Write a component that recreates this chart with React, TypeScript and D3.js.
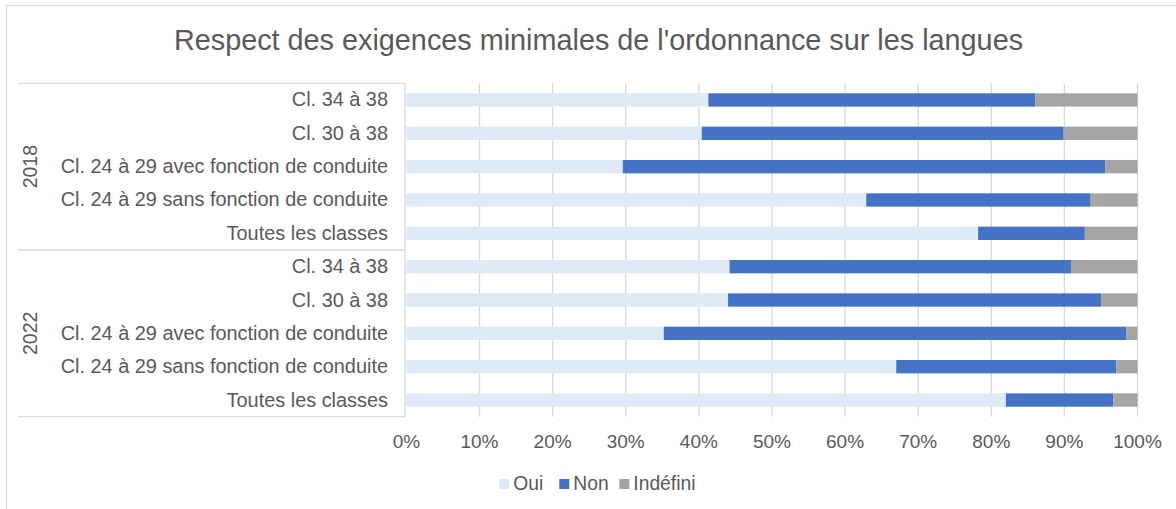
import React, { useEffect, useRef } from "react";
import * as d3 from "d3";

const title = "Respect des exigences minimales de l'ordonnance sur les langues";
const years = ["2018", "2022"];
const classes = [
  "Cl. 34 à 38",
  "Cl. 30 à 38",
  "Cl. 24 à 29 avec fonction de conduite",
  "Cl. 24 à 29 sans fonction de conduite",
  "Toutes les classes",
];
const seriesNames = ["Oui", "Non", "Indéfini"];
const seriesColors = ["#DEEBF7", "#4472C4", "#A5A5A5"];

// percentages, one per class, same order as classes
const oui2018 = [41.3, 40.4, 29.6, 62.9, 78.2];
const non2018 = [44.7, 49.5, 66.0, 30.7, 14.6];
const ind2018 = [14.0, 10.1, 4.4, 6.4, 7.2];
const oui2022 = [44.2, 44.0, 35.2, 67.0, 82.0];
const non2022 = [46.7, 51.0, 63.3, 30.1, 14.7];
const ind2022 = [9.1, 5.0, 1.5, 2.9, 3.3];

const xTicks = [0, 10, 20, 30, 40, 50, 60, 70, 80, 90, 100];

const WIDTH = 1176;
const HEIGHT = 509;
const FONT = "'Liberation Sans', Arial, sans-serif";
const TEXT = "#595959";
const LINE = "#d9d9d9";

export default function App() {
  const ref = useRef<SVGSVGElement>(null);

  useEffect(() => {
    const svg = d3.select(ref.current);
    svg.selectAll("*").remove();

    const values: Record<string, number[][]> = {
      "2018": [oui2018, non2018, ind2018],
      "2022": [oui2022, non2022, ind2022],
    };

    const rows: any[] = [];
    years.forEach((yr) => {
      classes.forEach((c, i) => {
        const row: any = { key: yr + "|" + c, year: yr, label: c };
        seriesNames.forEach((s, j) => (row[s] = values[yr][j][i]));
        rows.push(row);
      });
    });

    const plotLeft = 406.4;
    const plotRight = 1137.5;
    const plotTop = 83.3;
    const plotBottom = 416.7;
    const axisLeft = 18;
    const axisX = 405;

    const x = d3.scaleLinear().domain([0, 100]).range([plotLeft, plotRight]);
    const y = d3
      .scaleBand()
      .domain(rows.map((r) => r.key))
      .range([plotTop, plotBottom])
      .paddingInner(0.6)
      .paddingOuter(0.3);
    const yearBand = d3.scaleBand().domain(years).range([plotTop, plotBottom]);

    // chart frame
    svg
      .append("rect")
      .attr("x", 6.5)
      .attr("y", 5.5)
      .attr("width", WIDTH + 20)
      .attr("height", HEIGHT + 20)
      .attr("fill", "#fff")
      .attr("stroke", LINE)
      .attr("stroke-width", 1.3);

    svg
      .append("text")
      .attr("x", 598.5)
      .attr("y", 50)
      .attr("text-anchor", "middle")
      .attr("font-size", 28.8)
      .attr("fill", TEXT)
      .text(title);

    // gridlines
    svg
      .append("g")
      .selectAll("line")
      .data(xTicks.slice(1))
      .enter()
      .append("line")
      .attr("x1", (d) => x(d))
      .attr("x2", (d) => x(d))
      .attr("y1", plotTop)
      .attr("y2", plotBottom)
      .attr("stroke", LINE)
      .attr("stroke-width", 1.3);

    // stacked bars
    const stacked = d3.stack<any>().keys(seriesNames)(rows);
    svg
      .append("g")
      .selectAll("g")
      .data(stacked)
      .enter()
      .append("g")
      .attr("fill", (d, i) => seriesColors[i])
      .selectAll("rect")
      .data((d) => d)
      .enter()
      .append("rect")
      .attr("x", (d) => x(d[0]))
      .attr("width", (d) => x(d[1]) - x(d[0]))
      .attr("y", (d) => y(d.data.key)!)
      .attr("height", y.bandwidth());

    // category axis frame
    const cat = svg.append("g").attr("stroke", LINE).attr("stroke-width", 1.3);
    cat
      .append("line")
      .attr("x1", axisX)
      .attr("x2", axisX)
      .attr("y1", plotTop)
      .attr("y2", plotBottom);
    cat
      .selectAll("line.sep")
      .data([plotTop, ...years.map((yr) => yearBand(yr)! + yearBand.bandwidth())])
      .enter()
      .append("line")
      .attr("class", "sep")
      .attr("x1", axisLeft)
      .attr("x2", axisX)
      .attr("y1", (d) => d)
      .attr("y2", (d) => d);

    // category labels
    svg
      .append("g")
      .selectAll("text")
      .data(rows)
      .enter()
      .append("text")
      .attr("x", 388)
      .attr("y", (d) => y(d.key)! + y.bandwidth() / 2 + 6.5)
      .attr("text-anchor", "end")
      .attr("font-size", 19.9)
      .attr("fill", TEXT)
      .text((d) => d.label);

    // year labels
    svg
      .append("g")
      .selectAll("text")
      .data(years)
      .enter()
      .append("text")
      .attr(
        "transform",
        (d) => "translate(37," + (yearBand(d)! + yearBand.bandwidth() / 2) + ") rotate(-90)"
      )
      .attr("text-anchor", "middle")
      .attr("font-size", 19.5)
      .attr("fill", TEXT)
      .text((d) => d);

    // value axis labels
    svg
      .append("g")
      .selectAll("text")
      .data(xTicks)
      .enter()
      .append("text")
      .attr("x", (d) => x(d))
      .attr("y", 448)
      .attr("text-anchor", "middle")
      .attr("font-size", 19)
      .attr("fill", TEXT)
      .text((d) => d + "%");

    // legend
    const legendX = [499.3, 559.3, 619.3];
    const legend = svg
      .append("g")
      .selectAll("g")
      .data(seriesNames)
      .enter()
      .append("g")
      .attr("transform", (d, i) => "translate(" + legendX[i] + ",479)");
    legend
      .append("rect")
      .attr("width", 10)
      .attr("height", 10)
      .attr("fill", (d, i) => seriesColors[i]);
    legend
      .append("text")
      .attr("x", 14)
      .attr("y", 11)
      .attr("font-size", 19.3)
      .attr("fill", TEXT)
      .text((d) => d);
  }, []);

  return (
    <svg
      ref={ref}
      width={WIDTH}
      height={HEIGHT}
      style={{ position: "absolute", left: 0, top: 0, fontFamily: FONT }}
    />
  );
}
